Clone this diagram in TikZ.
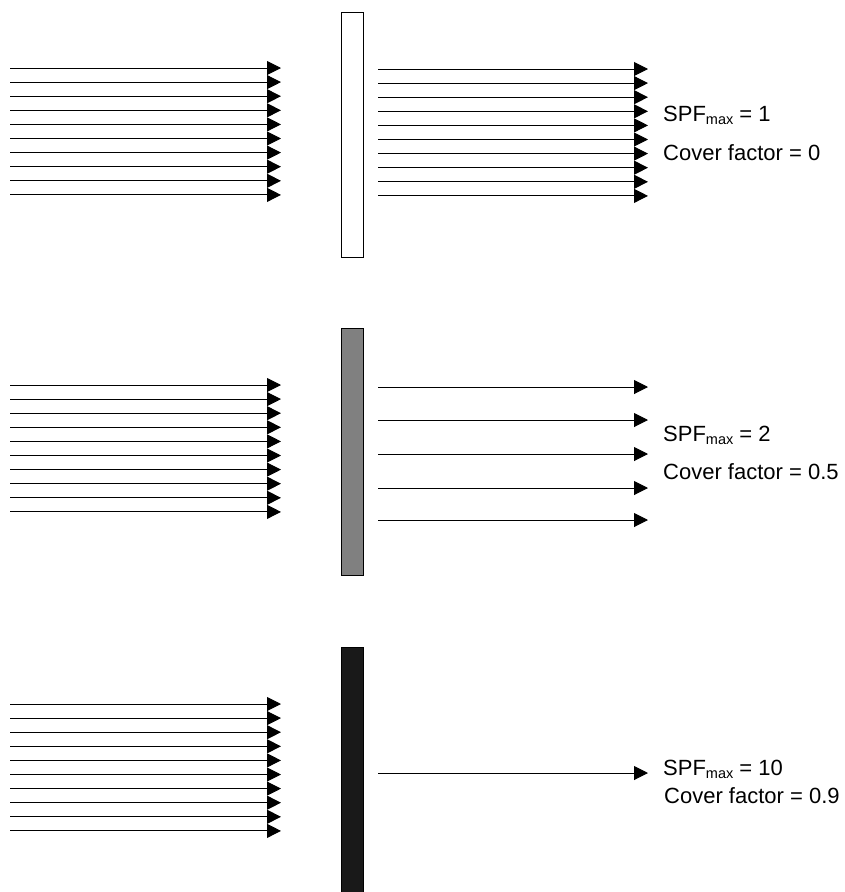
\documentclass[tikz,border=0pt]{standalone}
\usepackage{fontspec}
\setmainfont{Liberation Sans}
\usetikzlibrary{arrows.meta}
\usetikzlibrary{positioning}
\newcommand{\spfmax}{SPF\raisebox{-3pt}{\fontsize{14.5}{14.5}\selectfont max}}

\begin{document}
\begin{tikzpicture}[
            x=1pt, y=-1pt,
            font=\fontsize{22}{26}\selectfont,
            ray/.style={-{Triangle[length=14pt, width=14pt]}, line width=1pt, black},
            sheet/.style={
                draw=black, line width=1pt, anchor=north west,
                minimum width=22pt, inner sep=0pt,
            },
            readout/.style={anchor=base west, inner sep=0pt},
        ]
            \useasboundingbox (0,0) rectangle (844,892);

            % --- fabrics, from open to dense ---
            \node[sheet, fill=white, minimum height=245pt] (open) at (341,12) {};
            \node[sheet, fill=black!50, minimum height=247pt] (medium) at (341,328) {};
            \node[sheet, fill=black!90, minimum height=250pt] (dense) at (341,647) {};

            % --- incoming radiation, ten rays per panel ---
            \foreach \top in {68, 385, 704} {
                \foreach \i in {0,...,9} {
                    \draw[ray] (10,{\top+\i*14.1}) -- (281,{\top+\i*14.1});
                }
            }

            % --- transmitted radiation ---
            \foreach \i in {0,...,9} {
                \draw[ray] (378,{69+\i*14.1}) -- (648,{69+\i*14.1});
            }
            \foreach \y in {387, 420, 454, 488, 520} {
                \draw[ray] (378,\y) -- (648,\y);
            }
            \draw[ray] (378,773) -- (648,773);

            % --- readouts ---
            \node[readout] (spfOpen) at (663,121.5) {\spfmax{} = 1};
            \node[readout] (coverOpen) at (663,160.5) {Cover factor = 0};
            \node[readout] (spfMedium) at (663,441.5) {\spfmax{} = 2};
            \node[readout] (coverMedium) at (663,479.5) {Cover factor = 0.5};
            \node[readout] (spfDense) at (663,775) {\spfmax{} = 10};
            \node[readout] (coverDense) at (664,803) {Cover factor = 0.9};
        \end{tikzpicture}
\end{document}
